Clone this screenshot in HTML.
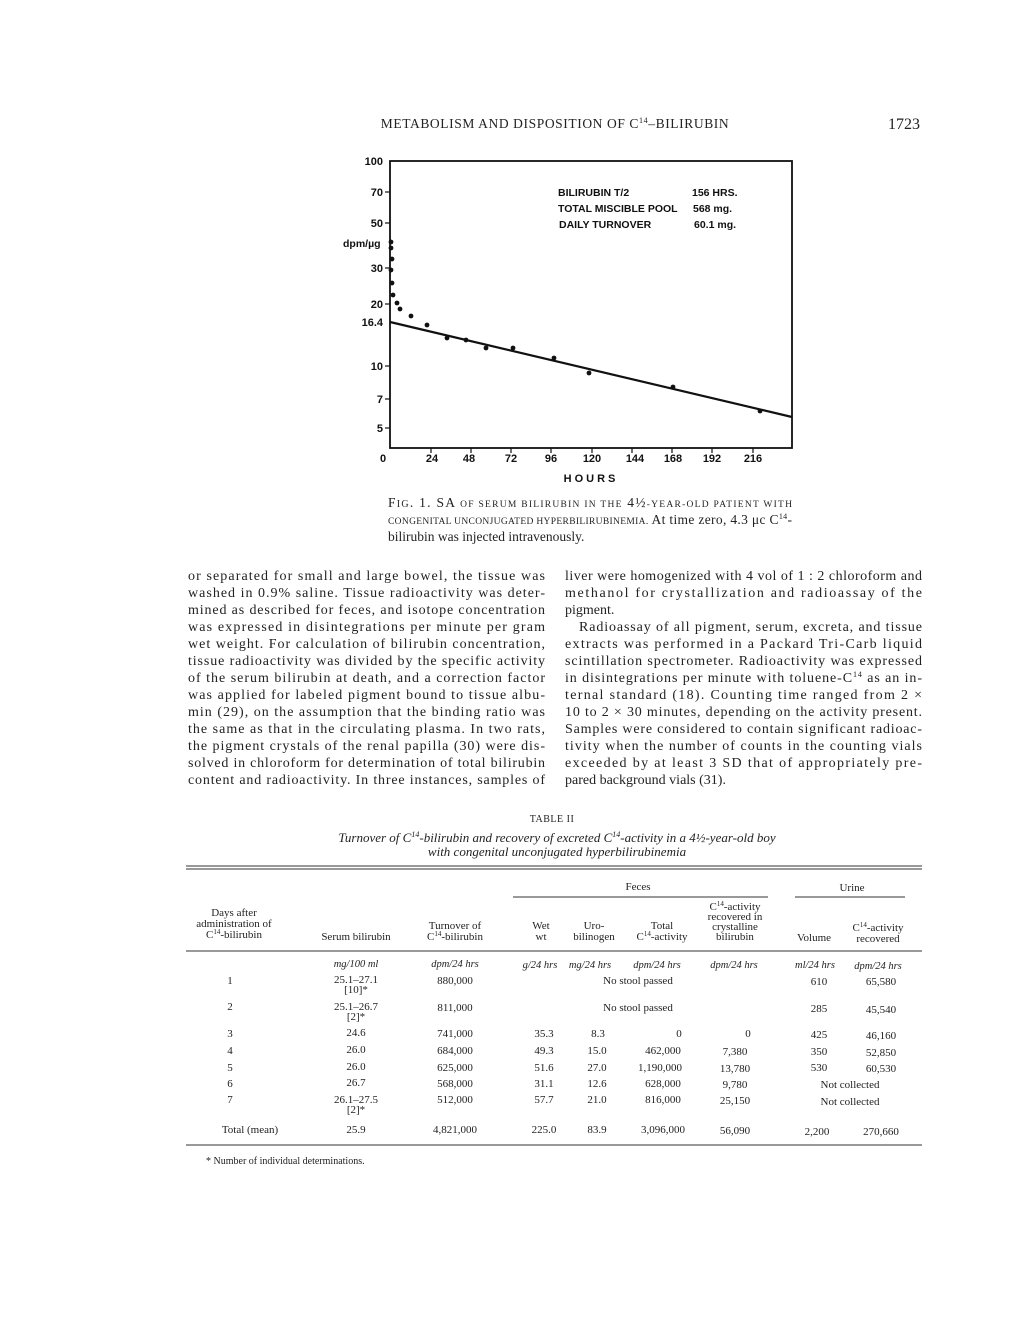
<!DOCTYPE html>
<html><head><meta charset="utf-8"><style>
html,body{margin:0;padding:0;background:#fff}
svg{display:block}
.s{font-family:"Liberation Serif",serif;fill:#222}
.a{font-family:"Liberation Sans",sans-serif;fill:#111;font-weight:bold}
</style></head><body>
<svg width="1020" height="1320" viewBox="0 0 1020 1320" xmlns="http://www.w3.org/2000/svg">
<g class="s">
<text x="555" y="128" font-size="13.5" text-anchor="middle" letter-spacing="0.6">METABOLISM AND DISPOSITION OF C<tspan font-size="8" dy="-5">14</tspan><tspan dy="5">–BILIRUBIN</tspan></text>
<text x="920" y="129" font-size="16" text-anchor="end">1723</text>
</g>
<g stroke="#111" fill="none">
<rect x="390" y="161" width="402" height="287" stroke-width="1.8"/>
<line x1="390" y1="322" x2="792" y2="417" stroke-width="2.2"/>
<g stroke-width="1.2">
<line x1="385" y1="192" x2="390" y2="192"/><line x1="385" y1="223" x2="390" y2="223"/>
<line x1="385" y1="268" x2="390" y2="268"/><line x1="385" y1="304" x2="390" y2="304"/>
<line x1="385" y1="366" x2="390" y2="366"/><line x1="385" y1="399" x2="390" y2="399"/>
<line x1="385" y1="428" x2="390" y2="428"/>
<line x1="431" y1="448" x2="431" y2="453"/><line x1="471" y1="448" x2="471" y2="453"/>
<line x1="511" y1="448" x2="511" y2="453"/><line x1="551" y1="448" x2="551" y2="453"/>
<line x1="592" y1="448" x2="592" y2="453"/><line x1="632" y1="448" x2="632" y2="453"/>
<line x1="672" y1="448" x2="672" y2="453"/><line x1="712" y1="448" x2="712" y2="453"/>
<line x1="753" y1="448" x2="753" y2="453"/>
</g></g>
<g fill="#111">
<circle cx="391" cy="242" r="2.4"/><circle cx="391" cy="248" r="2.4"/><circle cx="392" cy="259" r="2.4"/>
<circle cx="391" cy="270" r="2.4"/><circle cx="392" cy="283" r="2.4"/><circle cx="393" cy="295" r="2.4"/>
<circle cx="397" cy="303" r="2.4"/><circle cx="400" cy="309" r="2.4"/><circle cx="411" cy="316" r="2.4"/>
<circle cx="427" cy="325" r="2.4"/><circle cx="447" cy="338" r="2.4"/><circle cx="466" cy="340" r="2.4"/>
<circle cx="486" cy="348" r="2.4"/><circle cx="513" cy="348" r="2.4"/><circle cx="554" cy="358" r="2.4"/>
<circle cx="589" cy="373" r="2.4"/><circle cx="673" cy="387" r="2.4"/><circle cx="760" cy="411" r="2.4"/>
</g>
<g class="a" font-size="11" text-anchor="end">
<text x="383" y="165">100</text><text x="383" y="196">70</text><text x="383" y="227">50</text>
<text x="383" y="272">30</text><text x="383" y="308">20</text><text x="383" y="326">16.4</text>
<text x="383" y="370">10</text><text x="383" y="403">7</text><text x="383" y="432">5</text>
</g>
<text class="a" x="343" y="247" font-size="10.5">dpm/µg</text>
<g class="a" font-size="11" text-anchor="middle">
<text x="383" y="462">0</text><text x="432" y="462">24</text><text x="469" y="462">48</text>
<text x="511" y="462">72</text><text x="551" y="462">96</text><text x="592" y="462">120</text>
<text x="635" y="462">144</text><text x="673" y="462">168</text><text x="712" y="462">192</text>
<text x="753" y="462">216</text>
<text x="591" y="482" letter-spacing="3">HOURS</text>
</g>
<g class="a" font-size="10.5">
<text x="558" y="196">BILIRUBIN  T/2</text><text x="692" y="196">156 HRS.</text>
<text x="558" y="212">TOTAL  MISCIBLE  POOL</text><text x="693" y="212">568 mg.</text>
<text x="559" y="228">DAILY  TURNOVER</text><text x="694" y="228">60.1 mg.</text>
</g>
<g class="s" font-size="13.5">
<text x="388" y="507" textLength="404" lengthAdjust="spacing">F<tspan font-size="10">IG</tspan>. 1. SA <tspan font-size="9.5">OF SERUM BILIRUBIN IN THE</tspan> 4½<tspan font-size="9.5">-YEAR-OLD PATIENT WITH</tspan></text>
<text x="388" y="524" textLength="404" lengthAdjust="spacing"><tspan font-size="9.5">CONGENITAL UNCONJUGATED HYPERBILIRUBINEMIA.</tspan> At time zero, 4.3 μc C<tspan font-size="8" dy="-5">14</tspan><tspan dy="5">-</tspan></text>
<text x="388" y="541">bilirubin was injected intravenously.</text>
</g>
<g class="s" font-size="14">
<text x="188" y="580" textLength="357" lengthAdjust="spacing">or separated for small and large bowel, the tissue was</text>
<text x="188" y="597" textLength="357" lengthAdjust="spacing">washed in 0.9% saline. Tissue radioactivity was deter-</text>
<text x="188" y="614" textLength="357" lengthAdjust="spacing">mined as described for feces, and isotope concentration</text>
<text x="188" y="631" textLength="357" lengthAdjust="spacing">was expressed in disintegrations per minute per gram</text>
<text x="188" y="648" textLength="357" lengthAdjust="spacing">wet weight. For calculation of bilirubin concentration,</text>
<text x="188" y="665" textLength="357" lengthAdjust="spacing">tissue radioactivity was divided by the specific activity</text>
<text x="188" y="682" textLength="357" lengthAdjust="spacing">of the serum bilirubin at death, and a correction factor</text>
<text x="188" y="699" textLength="357" lengthAdjust="spacing">was applied for labeled pigment bound to tissue albu-</text>
<text x="188" y="716" textLength="357" lengthAdjust="spacing">min (29), on the assumption that the binding ratio was</text>
<text x="188" y="733" textLength="357" lengthAdjust="spacing">the same as that in the circulating plasma. In two rats,</text>
<text x="188" y="750" textLength="357" lengthAdjust="spacing">the pigment crystals of the renal papilla (30) were dis-</text>
<text x="188" y="767" textLength="357" lengthAdjust="spacing">solved in chloroform for determination of total bilirubin</text>
<text x="188" y="784" textLength="357" lengthAdjust="spacing">content and radioactivity. In three instances, samples of</text>

<text x="565" y="580" textLength="357" lengthAdjust="spacing">liver were homogenized with 4 vol of 1 : 2 chloroform and</text>
<text x="565" y="597" textLength="357" lengthAdjust="spacing">methanol for crystallization and radioassay of the</text>
<text x="565" y="614">pigment.</text>
<text x="579" y="631" textLength="343" lengthAdjust="spacing">Radioassay of all pigment, serum, excreta, and tissue</text>
<text x="565" y="648" textLength="357" lengthAdjust="spacing">extracts was performed in a Packard Tri-Carb liquid</text>
<text x="565" y="665" textLength="357" lengthAdjust="spacing">scintillation spectrometer. Radioactivity was expressed</text>
<text x="565" y="682" textLength="357" lengthAdjust="spacing">in disintegrations per minute with toluene-C<tspan font-size="8" dy="-5">14</tspan><tspan dy="5"> as an in-</tspan></text>
<text x="565" y="699" textLength="357" lengthAdjust="spacing">ternal standard (18). Counting time ranged from 2 ×</text>
<text x="565" y="716" textLength="357" lengthAdjust="spacing">10 to 2 × 30 minutes, depending on the activity present.</text>
<text x="565" y="733" textLength="357" lengthAdjust="spacing">Samples were considered to contain significant radioac-</text>
<text x="565" y="750" textLength="357" lengthAdjust="spacing">tivity when the number of counts in the counting vials</text>
<text x="565" y="767" textLength="357" lengthAdjust="spacing">exceeded by at least 3 SD that of appropriately pre-</text>
<text x="565" y="784">pared background vials (31).</text>
</g>
<g class="s">
<text x="552" y="822" font-size="10" text-anchor="middle" letter-spacing="0.5">TABLE II</text>
<text x="557" y="842" font-size="13" font-style="italic" text-anchor="middle">Turnover of C<tspan font-size="8" dy="-5">14</tspan><tspan dy="5">-bilirubin and recovery of excreted C</tspan><tspan font-size="8" dy="-5">14</tspan><tspan dy="5">-activity in a 4½-year-old boy</tspan></text>
<text x="557" y="856" font-size="13" font-style="italic" text-anchor="middle">with congenital unconjugated hyperbilirubinemia</text>
</g>
<g stroke="#333" stroke-width="1">
<line x1="186" y1="866" x2="922" y2="866"/><line x1="186" y1="869" x2="922" y2="869"/>
<line x1="513" y1="897" x2="768" y2="897"/><line x1="795" y1="897" x2="905" y2="897"/>
<line x1="186" y1="951" x2="922" y2="951"/>
<line x1="186" y1="1145" x2="922" y2="1145"/>
</g>
<g class="s" font-size="11" text-anchor="middle">
<text x="638" y="890">Feces</text><text x="852" y="891">Urine</text>
<text x="234" y="916">Days after</text><text x="234" y="927">administration of</text><text x="234" y="938">C<tspan font-size="7" dy="-4">14</tspan><tspan dy="4">-bilirubin</tspan></text>
<text x="356" y="940">Serum bilirubin</text>
<text x="455" y="929">Turnover of</text><text x="455" y="940">C<tspan font-size="7" dy="-4">14</tspan><tspan dy="4">-bilirubin</tspan></text>
<text x="541" y="929">Wet</text><text x="541" y="940">wt</text>
<text x="594" y="929">Uro-</text><text x="594" y="940">bilinogen</text>
<text x="662" y="929">Total</text><text x="662" y="940">C<tspan font-size="7" dy="-4">14</tspan><tspan dy="4">-activity</tspan></text>
<text x="735" y="910">C<tspan font-size="7" dy="-4">14</tspan><tspan dy="4">-activity</tspan></text><text x="735" y="920">recovered in</text><text x="735" y="930">crystalline</text><text x="735" y="940">bilirubin</text>
<text x="814" y="941">Volume</text>
<text x="878" y="931">C<tspan font-size="7" dy="-4">14</tspan><tspan dy="4">-activity</tspan></text><text x="878" y="942">recovered</text>
<g font-style="italic" font-size="10.5">
<text x="356" y="967">mg/100 ml</text><text x="455" y="967">dpm/24 hrs</text><text x="540" y="968">g/24 hrs</text>
<text x="590" y="968">mg/24 hrs</text><text x="657" y="968">dpm/24 hrs</text><text x="734" y="968">dpm/24 hrs</text>
<text x="815" y="968">ml/24 hrs</text><text x="878" y="969">dpm/24 hrs</text>
</g>
<text x="230" y="984">1</text><text x="356" y="983">25.1–27.1</text><text x="356" y="993">[10]*</text><text x="455" y="984">880,000</text><text x="638" y="984">No stool passed</text><text x="819" y="985">610</text><text x="881" y="985">65,580</text>
<text x="230" y="1010">2</text><text x="356" y="1010">25.1–26.7</text><text x="356" y="1020">[2]*</text><text x="455" y="1011">811,000</text><text x="638" y="1011">No stool passed</text><text x="819" y="1012">285</text><text x="881" y="1013">45,540</text>
<text x="230" y="1037">3</text><text x="356" y="1036">24.6</text><text x="455" y="1037">741,000</text><text x="544" y="1037">35.3</text><text x="598" y="1037">8.3</text><text x="679" y="1037">0</text><text x="748" y="1037">0</text><text x="819" y="1038">425</text><text x="881" y="1039">46,160</text>
<text x="230" y="1054">4</text><text x="356" y="1053">26.0</text><text x="455" y="1054">684,000</text><text x="544" y="1054">49.3</text><text x="597" y="1054">15.0</text><text x="663" y="1054">462,000</text><text x="735" y="1055">7,380</text><text x="819" y="1055">350</text><text x="881" y="1056">52,850</text>
<text x="230" y="1071">5</text><text x="356" y="1070">26.0</text><text x="455" y="1071">625,000</text><text x="544" y="1071">51.6</text><text x="597" y="1071">27.0</text><text x="660" y="1071">1,190,000</text><text x="735" y="1072">13,780</text><text x="819" y="1071">530</text><text x="881" y="1072">60,530</text>
<text x="230" y="1087">6</text><text x="356" y="1086">26.7</text><text x="455" y="1087">568,000</text><text x="544" y="1087">31.1</text><text x="597" y="1087">12.6</text><text x="663" y="1087">628,000</text><text x="735" y="1088">9,780</text><text x="850" y="1088">Not collected</text>
<text x="230" y="1103">7</text><text x="356" y="1103">26.1–27.5</text><text x="356" y="1113">[2]*</text><text x="455" y="1103">512,000</text><text x="544" y="1103">57.7</text><text x="597" y="1103">21.0</text><text x="663" y="1103">816,000</text><text x="735" y="1104">25,150</text><text x="850" y="1105">Not collected</text>
<text x="250" y="1133">Total (mean)</text><text x="356" y="1133">25.9</text><text x="455" y="1133">4,821,000</text><text x="544" y="1133">225.0</text><text x="597" y="1133">83.9</text><text x="663" y="1133">3,096,000</text><text x="735" y="1134">56,090</text><text x="817" y="1135">2,200</text><text x="881" y="1135">270,660</text>
</g>
<text class="s" x="206" y="1164" font-size="10">* Number of individual determinations.</text>
</svg>
</body></html>
